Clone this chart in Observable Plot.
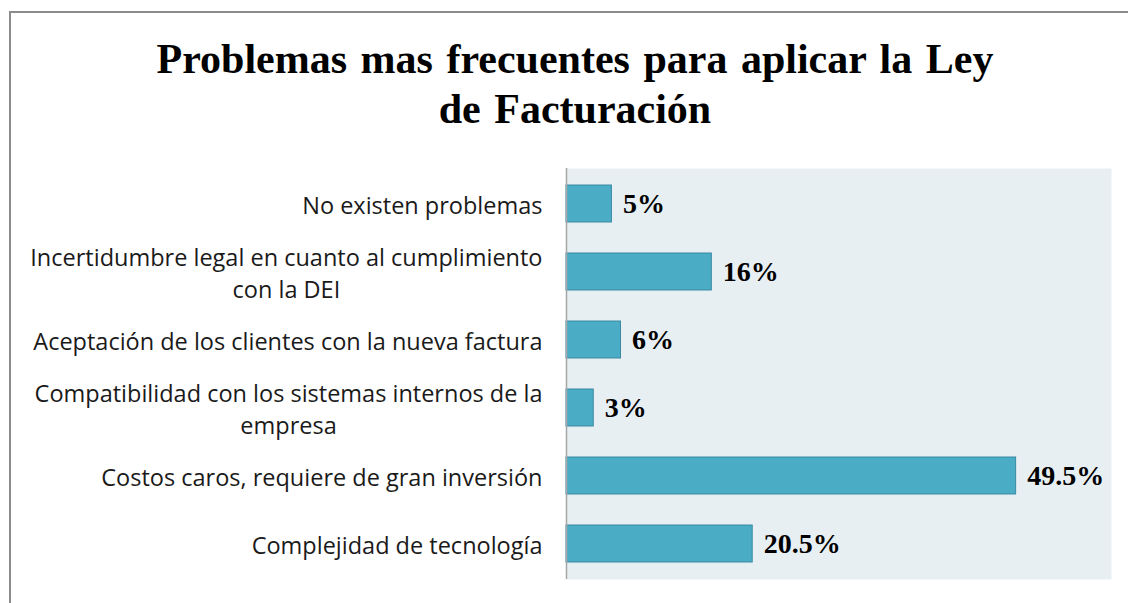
<!DOCTYPE html>
<html>
<head>
<meta charset="utf-8">
<script src="https://cdn.jsdelivr.net/npm/d3@7"></script>
<script src="https://cdn.jsdelivr.net/npm/@observablehq/plot@0.6"></script>
<style>
  html, body { margin: 0; padding: 0; background: #fff; width: 1128px; height: 603px; overflow: hidden; }
  #frame { position: absolute; left: 9px; top: 11px; width: 1128px; height: 620px; border: 2px solid #8c8c8c; box-sizing: border-box; }
  #title { position: absolute; left: 9px; width: 1132px; top: 34px; text-align: center; word-spacing: 3px;
           font-family: "Liberation Serif", "Times New Roman", serif; font-weight: bold; font-size: 42px; line-height: 50px; color: #000; }
  #chart { position: absolute; left: 0; top: 0; }
</style>
</head>
<body>
<div id="frame"></div>
<div id="title">Problemas mas frecuentes para aplicar la Ley<br>de Facturación</div>
<div id="chart"></div>
<script>
const categories = [
  "No existen problemas",
  "Incertidumbre legal en cuanto al cumplimiento con la DEI",
  "Aceptación de los clientes con la nueva factura",
  "Compatibilidad con los sistemas internos de la empresa",
  "Costos caros, requiere de gran inversión",
  "Complejidad de tecnología"
];
const tickLabels = [
  "No existen problemas",
  "Incertidumbre legal en cuanto al cumplimiento\ncon la DEI",
  "Aceptación de los clientes con la nueva factura",
  "Compatibilidad con los sistemas internos de la\nempresa",
  "Costos caros, requiere de gran inversión",
  "Complejidad de tecnología"
];
const values = [5, 16, 6, 3, 49.5, 20.5];
const valueLabels = ["5%", "16%", "6%", "3%", "49.5%", "20.5%"];

const data = categories.map((c, i) => ({category: c, value: values[i], label: valueLabels[i]}));
const labelOf = new Map(categories.map((c, i) => [c, tickLabels[i]]));

const chart = Plot.plot({
  width: 1128,
  height: 603,
  marginTop: 168,
  marginBottom: 24,
  marginLeft: 566,
  marginRight: 17,
  style: {background: "transparent", overflow: "visible"},
  x: {domain: [0, 60], axis: null},
  y: {domain: categories, paddingInner: 0.46, paddingOuter: 0.23, label: null},
  marks: [
    Plot.frame({fill: "#e8eff3", stroke: null}),
    Plot.barX(data, {x: "value", y: "category", fill: "#4bacc6", stroke: "#3b8aa4", strokeWidth: 1}),
    Plot.ruleX([0], {stroke: "#a6a6a6", strokeWidth: 1.5}),
    Plot.text(data, {x: "value", y: "category", text: "label", dx: 11, textAnchor: "start",
      fontFamily: "Liberation Serif, Times New Roman, serif", fontWeight: "bold", fontSize: 28, fill: "#000"}),
    Plot.axisY({tickSize: 0, tickPadding: 24, tickFormat: d => labelOf.get(d), label: null,
      fontFamily: "Open Sans", fontSize: 23.5, lineHeight: 1.36, fill: "#1a1a1a"})
  ]
});
document.getElementById("chart").appendChild(chart);

// center the lines of multi-line tick labels within their block, block right-aligned
d3.select(chart).selectAll('g[aria-label="y-axis tick label"] text').each(function() {
  const t = d3.select(this);
  if (t.selectAll("tspan").size() > 1) {
    const w = this.getBBox().width;
    t.attr("text-anchor", "middle");
    t.attr("transform", (t.attr("transform") || "") + ` translate(${-w / 2},0)`);
  }
});
</script>
</body>
</html>
